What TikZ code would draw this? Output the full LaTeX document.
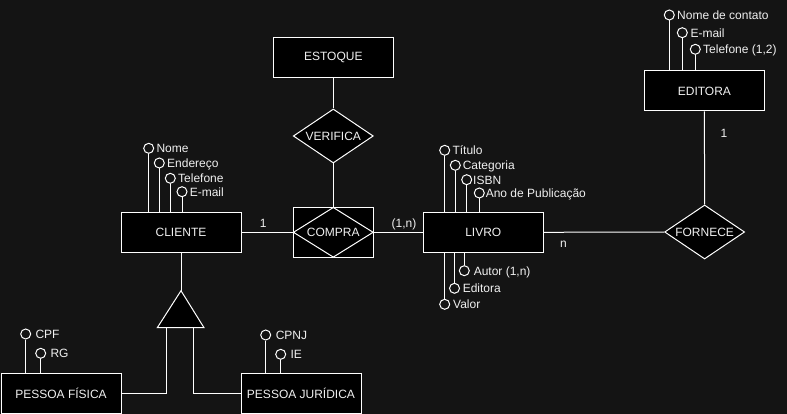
\documentclass[tikz,border=0pt]{standalone}
\usepackage{fontspec}
\setmainfont{Liberation Sans}
\usetikzlibrary{shapes.geometric}
\definecolor{bg}{HTML}{141414}
\definecolor{fg}{HTML}{F0F0F0}
\begin{document}
\begin{tikzpicture}[x=1pt,y=-1pt,line width=1pt,font=\fontsize{12}{14}\selectfont,
 entity/.style={draw=white,fill=black,minimum width=120pt,minimum height=40pt,inner sep=0pt,text=fg},
 rel/.style={diamond,draw=white,fill=black,aspect=1.5,inner sep=0pt,minimum width=80pt,minimum height=54pt,text=fg},
 attr/.style={circle,draw=white,fill=bg,minimum size=10pt,inner sep=0pt},
 lbl/.style={anchor=west,inner sep=0pt,text height=9pt,text depth=0pt,text=fg},
 card/.style={inner sep=0pt,text height=9pt,text depth=0pt,text=fg},
 link/.style={draw=white}]
\fill[bg] (0,0) rectangle (787,414);
\useasboundingbox (0,0) rectangle (787,414);

% entities and relationships
\node[entity] (estoque) at (333.3,57.3) {ESTOQUE};
\node[rel] (verifica) at (333.3,136) {VERIFICA};
\node[entity,minimum width=80pt,minimum height=50pt] (compra) at (333.3,232.3) {};
\node[diamond,draw=white,fill=black,aspect=1.6,inner sep=0pt,minimum width=80pt,minimum height=50pt,text=fg] (compraD) at (333.3,232.3) {COMPRA};
\node[entity] (cliente) at (181,232.3) {CLIENTE};
\node[entity] (livro) at (483.3,232.3) {LIVRO};
\node[rel] (fornece) at (704.6,232) {FORNECE};
\node[entity] (editora) at (704.4,91) {EDITORA};
\node[entity] (pf) at (61,393.3) {PESSOA FÍSICA};
\node[entity] (pj) at (301,393.3) {PESSOA JURÍDICA};

% relationship links
\draw[link] (estoque.south) -- (verifica.north);
\draw[link] (verifica.south) -- (compra.north);
\draw[link] (cliente.east) -- (compra.west);
\draw[link] (compra.east) -- (livro.west);
\draw[link] (livro.east) -- (fornece.west);
\draw[link] (editora.south) -- (fornece.north);

% cardinalities
\node[card] (c1) at (263.3,222.5) {1};
\node[card] (c2) at (404,222.5) {(1,n)};
\node[card] (c3) at (563.5,243) {n};
\node[card] (c4) at (724,132.7) {1};

% specialization
\coordinate (apex) at (181,290.7);
\coordinate (bl) at (157.3,327.7);
\coordinate (br) at (204,327.7);
\coordinate (t1) at (166.7,327.7);
\coordinate (t2) at (193.3,327.7);
\draw[link] (cliente.south) -- (apex);
\draw[link,fill=black] (apex) -- (bl) -- (br) -- cycle;
\draw[link] (t1) |- (pf.east);
\draw[link] (t2) |- (pj.west);

% CLIENTE attributes
\node[attr] (aNome) at (148.7,148.3) {};
\node[lbl] (tNome) at (156,148.3) {Nome};
\node[attr] (aEnd) at (159.3,163) {};
\node[lbl] (tEnd) at (166.7,163) {Endereço};
\node[attr] (aTel) at (170.3,178.3) {};
\node[lbl] (tTel) at (177.7,178.3) {Telefone};
\node[attr] (aMail) at (182,191.7) {};
\node[lbl] (tMail) at (189.3,191.7) {E-mail};
\foreach \a in {aNome,aEnd,aTel,aMail}
  \draw[link] (\a.south) -- (\a.south |- cliente.north);

% LIVRO attributes
\node[attr] (aTit) at (444.7,150.3) {};
\node[lbl] (tTit) at (452,150.3) {Título};
\node[attr] (aCat) at (455.3,165.3) {};
\node[lbl] (tCat) at (462.3,165.3) {Categoria};
\node[attr] (aIsbn) at (466.7,179.7) {};
\node[lbl] (tIsbn) at (472.7,179.7) {ISBN};
\node[attr] (aAno) at (479.3,193) {};
\node[lbl] (tAno) at (485.3,193) {Ano de Publicação};
\foreach \a in {aTit,aCat,aIsbn,aAno}
  \draw[link] (\a.south) -- (\a.south |- livro.north);
\node[attr] (aAut) at (464.3,270.7) {};
\node[lbl] (tAut) at (473.3,270.7) {Autor (1,n)};
\node[attr] (aEdi) at (454.5,288.3) {};
\node[lbl] (tEdi) at (462.3,288.3) {Editora};
\node[attr] (aVal) at (444.7,304.3) {};
\node[lbl] (tVal) at (452.7,304.3) {Valor};
\foreach \a in {aAut,aEdi,aVal}
  \draw[link] (\a.north) -- (\a.north |- livro.south);

% EDITORA attributes
\node[attr] (aCon) at (669.3,15) {};
\node[lbl] (tCon) at (676.7,15) {Nome de contato};
\node[attr] (aEm) at (682.3,32.7) {};
\node[lbl] (tEm) at (690,32.7) {E-mail};
\node[attr] (aTe) at (695.3,49.3) {};
\node[lbl] (tTe) at (702.7,49.3) {Telefone (1,2)};
\foreach \a in {aCon,aEm,aTe}
  \draw[link] (\a.south) -- (\a.south |- editora.north);

% PESSOA FISICA attributes
\node[attr] (aCpf) at (25.7,334) {};
\node[lbl] (tCpf) at (35,334) {CPF};
\node[attr] (aRg) at (40.7,353.3) {};
\node[lbl] (tRg) at (50,353.3) {RG};
\foreach \a in {aCpf,aRg}
  \draw[link] (\a.south) -- (\a.south |- pf.north);

% PESSOA JURIDICA attributes
\node[attr] (aCnpj) at (265.7,335) {};
\node[lbl] (tCnpj) at (275.3,335) {CPNJ};
\node[attr] (aIe) at (280.7,354.3) {};
\node[lbl] (tIe) at (290,354.3) {IE};
\foreach \a in {aCnpj,aIe}
  \draw[link] (\a.south) -- (\a.south |- pj.north);
\end{tikzpicture}
\end{document}
